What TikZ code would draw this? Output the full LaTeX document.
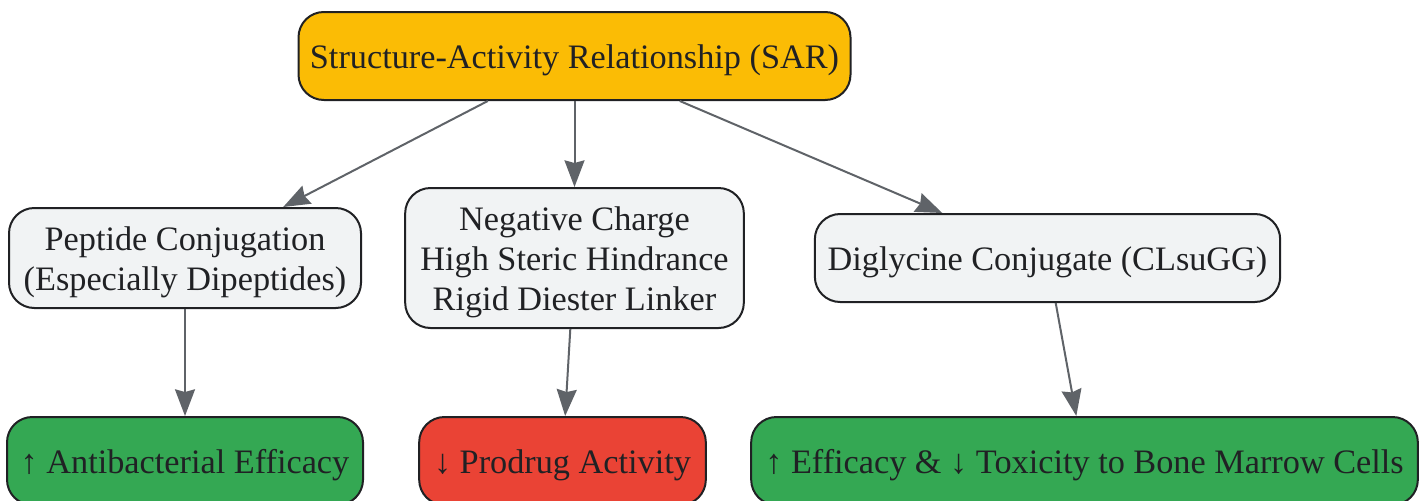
\documentclass[tikz,border=0pt]{standalone}
\usepackage{fontspec}
\setmainfont{Liberation Serif}
\usetikzlibrary{arrows.meta}
\definecolor{saryellow}{HTML}{FBBC05}
\definecolor{upgreen}{HTML}{34A853}
\definecolor{downred}{HTML}{EA4335}
\definecolor{boxgray}{HTML}{F1F3F4}
\definecolor{edgegray}{HTML}{5F6368}
\definecolor{inkdark}{HTML}{202124}
\begin{document}
\begin{tikzpicture}[x=0.75pt,y=-0.75pt,>={Stealth[length=20pt,width=15pt,inset=2pt]},
    box/.style={draw=inkdark,line width=1.5pt,rounded corners=19pt,align=center,
        text=inkdark,font=\fontsize{25.7}{30}\selectfont,inner sep=0pt,
        text height=24pt,text depth=6pt},
    lines/.style={text height={24pt+(#1-1)*30pt}},
    link/.style={->,draw=edgegray,line width=1.5pt}]
    \useasboundingbox (0,0) rectangle (1426,500);
    \node[box,fill=saryellow,minimum width=414pt,minimum height=66pt] (sar) at (574.5,56) {Structure-Activity Relationship (SAR)};
    \node[box,lines=2,fill=boxgray,minimum width=264pt,minimum height=75pt] (pep) at (185,258) {Peptide Conjugation\\(Especially Dipeptides)};
    \node[box,lines=3,fill=boxgray,minimum width=254pt,minimum height=105pt] (neg) at (574.5,258) {Negative Charge\\High Steric Hindrance\\Rigid Diester Linker};
    \node[box,fill=boxgray,minimum width=349pt,minimum height=66pt] (digly) at (1047.5,258) {Diglycine Conjugate (CLsuGG)};
    \node[box,fill=upgreen,minimum width=267pt,minimum height=66pt] (antib) at (185,461) {↑ Antibacterial Efficacy};
    \node[box,fill=downred,minimum width=215pt,minimum height=66pt] (prod) at (562.5,461) {↓ Prodrug Activity};
    \node[box,fill=upgreen,minimum width=500pt,minimum height=66pt] (effic) at (1084.5,461) {↑ Efficacy \& ↓ Toxicity to Bone Marrow Cells};
    % connectors
    \draw[link] (sar)--(pep);
    \draw[link] (sar)--(neg);
    \draw[link] (sar)--(digly);
    \draw[link] (pep)--(antib);
    \draw[link] (neg)--(prod);
    \draw[link] (digly)--(effic);
\end{tikzpicture}
\end{document}
